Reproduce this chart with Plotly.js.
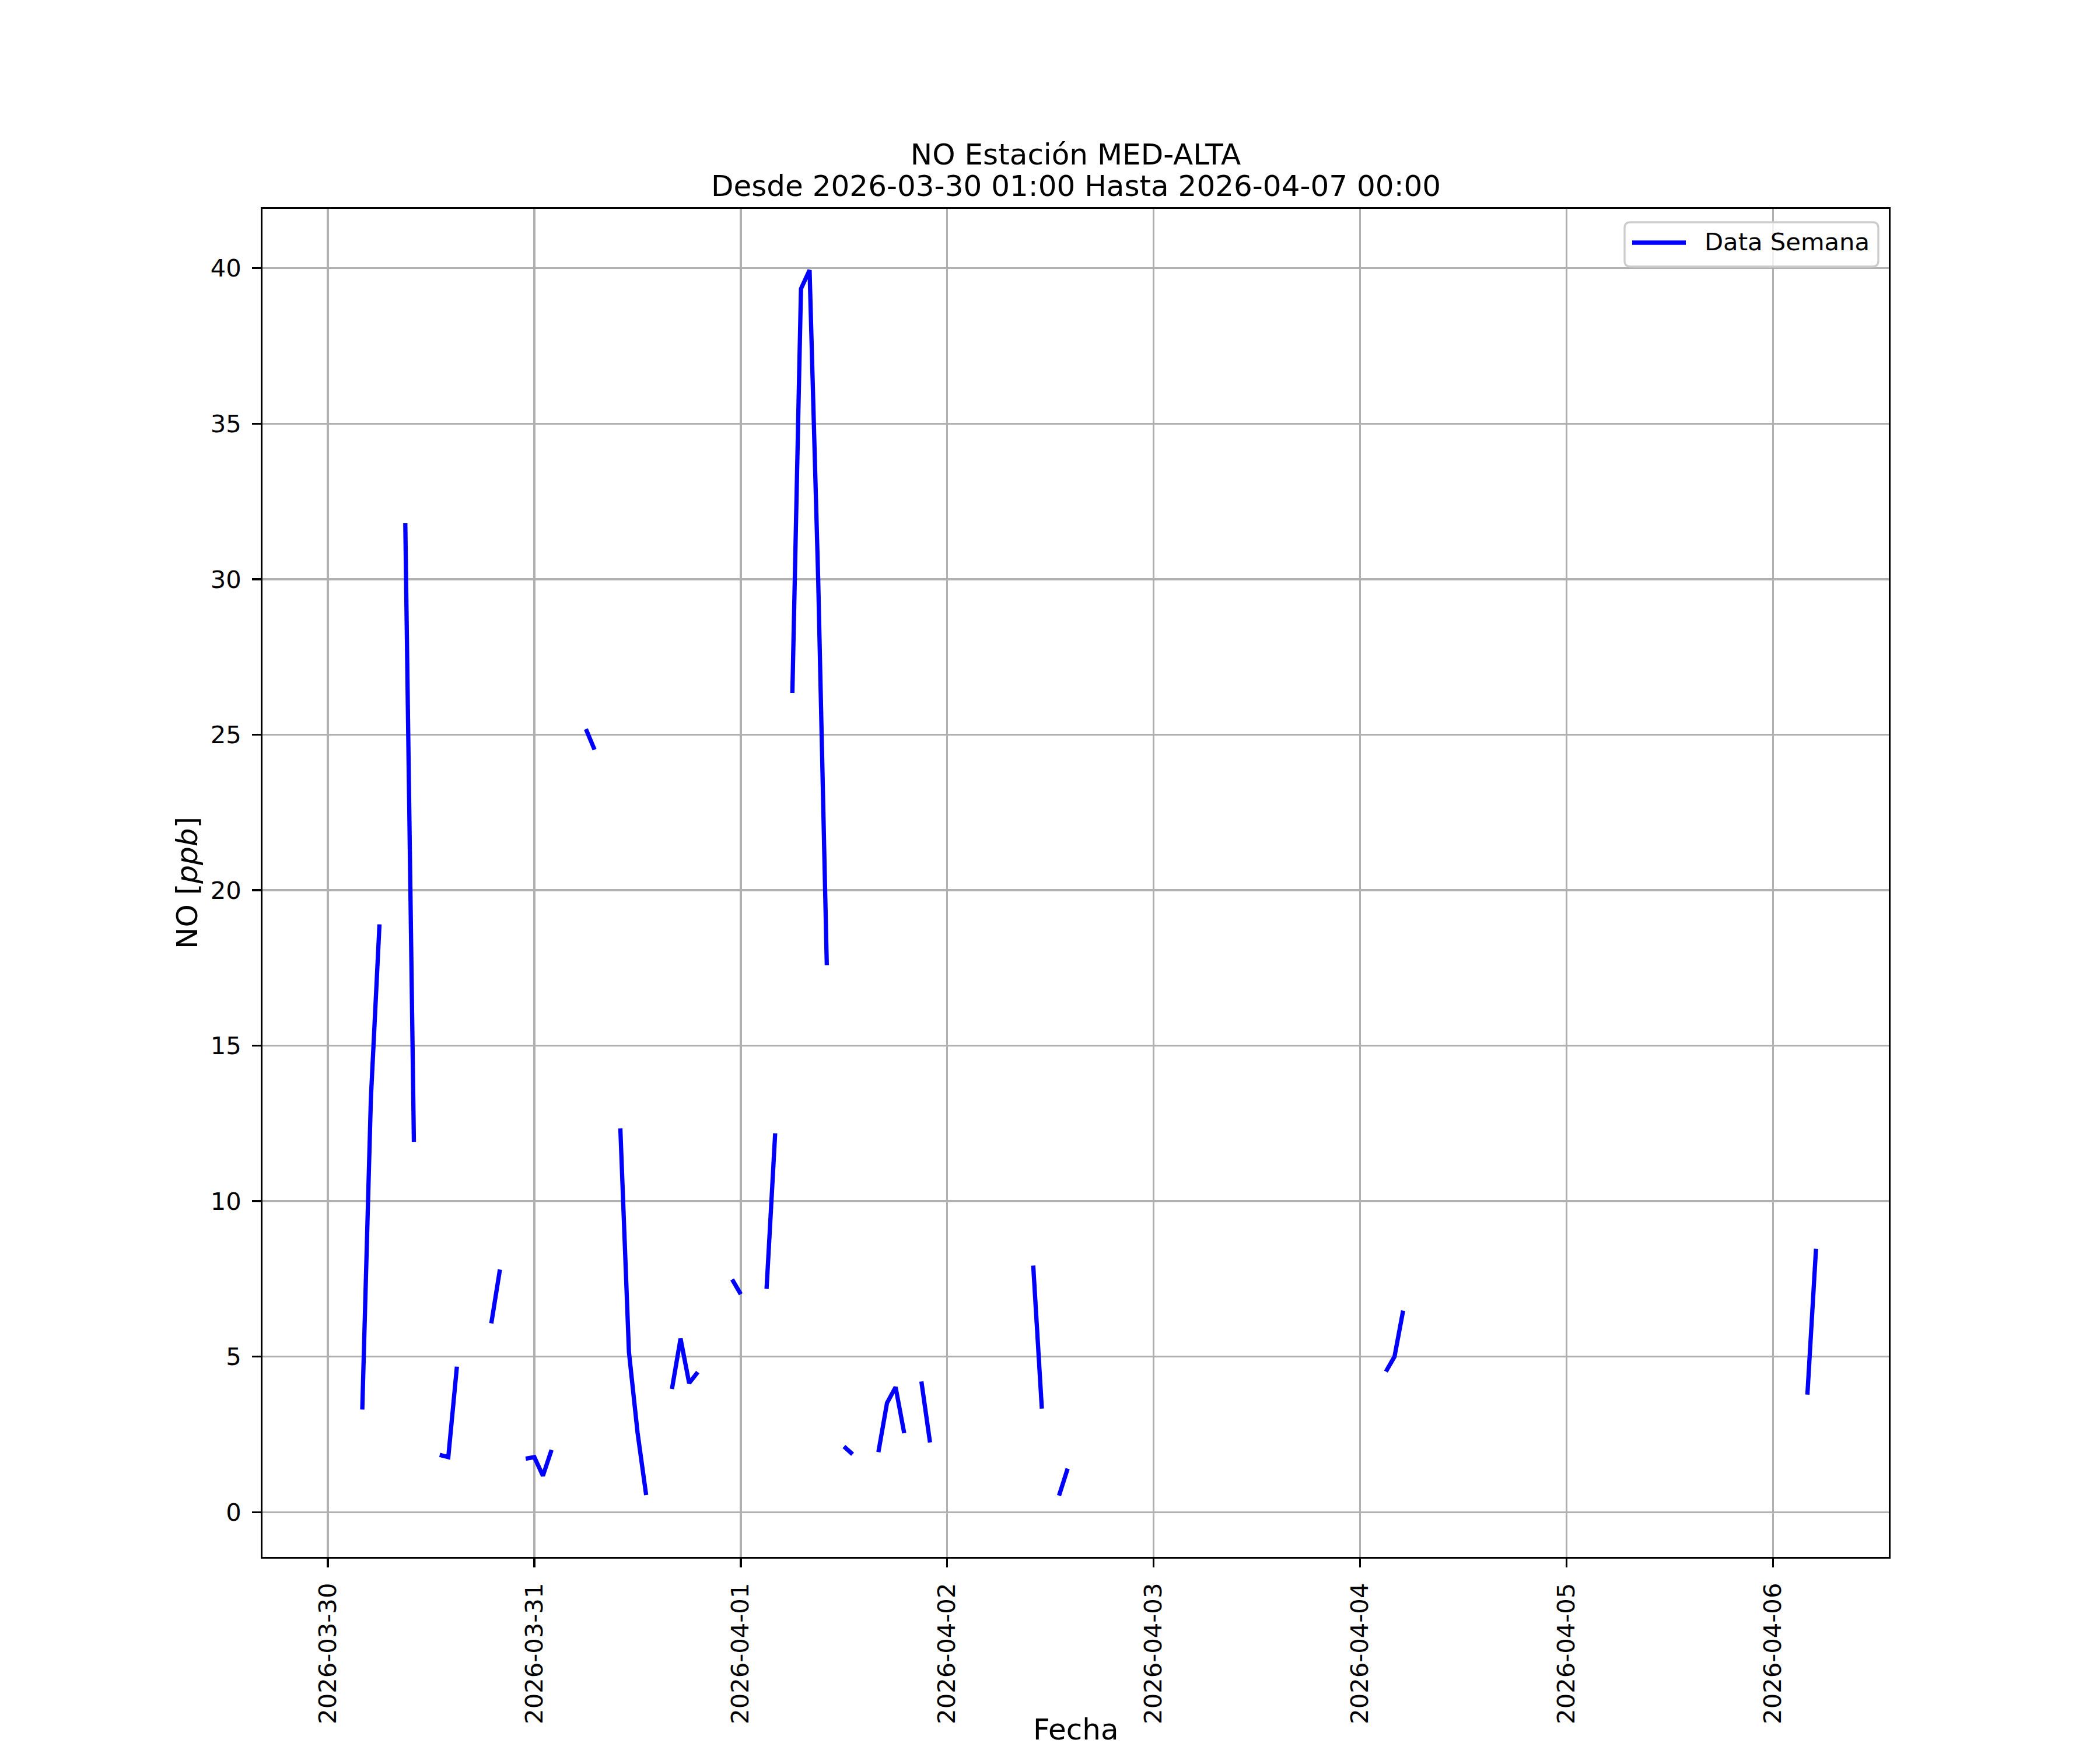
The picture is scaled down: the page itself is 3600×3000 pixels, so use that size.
<!DOCTYPE html>
<html>
<head>
<meta charset="utf-8">
<script src="https://cdn.plot.ly/plotly-3.0.1.min.js"></script>
<style>
  html, body { margin: 0; padding: 0; background: #ffffff; }
  #chart { width: 3600px; height: 3000px; }
</style>
</head>
<body>
<div id="chart"></div>
<script>
// ---- Data (hourly NO readings; null = missing hour, breaks the line) ----
const times = [
  '2026-03-30 04:00', '2026-03-30 05:00', '2026-03-30 06:00', '2026-03-30 07:00',
  '2026-03-30 09:00', '2026-03-30 10:00', '2026-03-30 11:00',
  '2026-03-30 13:00', '2026-03-30 14:00', '2026-03-30 15:00', '2026-03-30 16:00',
  '2026-03-30 19:00', '2026-03-30 20:00', '2026-03-30 21:00',
  '2026-03-30 23:00', '2026-03-31 00:00', '2026-03-31 01:00', '2026-03-31 02:00', '2026-03-31 03:00',
  '2026-03-31 06:00', '2026-03-31 07:00', '2026-03-31 08:00',
  '2026-03-31 10:00', '2026-03-31 11:00', '2026-03-31 12:00', '2026-03-31 13:00', '2026-03-31 14:00',
  '2026-03-31 16:00', '2026-03-31 17:00', '2026-03-31 18:00', '2026-03-31 19:00', '2026-03-31 20:00',
  '2026-03-31 23:00', '2026-04-01 00:00', '2026-04-01 01:00',
  '2026-04-01 03:00', '2026-04-01 04:00', '2026-04-01 05:00',
  '2026-04-01 06:00', '2026-04-01 07:00', '2026-04-01 08:00', '2026-04-01 09:00', '2026-04-01 10:00', '2026-04-01 11:00',
  '2026-04-01 12:00', '2026-04-01 13:00', '2026-04-01 14:00',
  '2026-04-01 16:00', '2026-04-01 17:00', '2026-04-01 18:00', '2026-04-01 19:00', '2026-04-01 20:00',
  '2026-04-01 21:00', '2026-04-01 22:00', '2026-04-01 23:00',
  '2026-04-02 10:00', '2026-04-02 11:00', '2026-04-02 12:00',
  '2026-04-02 13:00', '2026-04-02 14:00', '2026-04-02 15:00',
  '2026-04-04 03:00', '2026-04-04 04:00', '2026-04-04 05:00', '2026-04-04 06:00',
  '2026-04-06 04:00', '2026-04-06 05:00'
];
const noValues = [
  3.3, 13.3, 18.9, null,
  31.8, 11.9, null,
  1.84, 1.77, 4.68, null,
  6.07, 7.8, null,
  1.72, 1.77, 1.17, 2.0, null,
  25.18, 24.52, null,
  12.34, 5.15, 2.56, 0.55, null,
  3.96, 5.58, 4.15, 4.5, null,
  7.48, 7.01, null,
  7.18, 12.18, null,
  26.34, 39.34, 39.94, 30.0, 17.59, null,
  2.11, 1.86, null,
  1.93, 3.51, 4.02, 2.54, null,
  4.2, 2.24, null,
  7.93, 3.33, null,
  0.53, 1.4, null,
  4.52, 5.0, 6.48, null,
  3.78, 8.47
];
const tickDates = ['2026-03-30', '2026-03-31', '2026-04-01', '2026-04-02',
                   '2026-04-03', '2026-04-04', '2026-04-05', '2026-04-06'];
const tickLabels = ['2026-03-30', '2026-03-31', '2026-04-01', '2026-04-02',
                    '2026-04-03', '2026-04-04', '2026-04-05', '2026-04-06'];
const yTicks = [0, 5, 10, 15, 20, 25, 30, 35, 40];
const seriesName = 'Data Semana';
const titleLine1 = 'NO Estación MED-ALTA';
const titleLine2 = 'Desde 2026-03-30 01:00 Hasta 2026-04-07 00:00';
const xLabel = 'Fecha';
const yLabel = 'NO [<i>ppb</i>]';

// ---- Styling / geometry ----
const FONT = 'DejaVu Sans, Liberation Sans, sans-serif';
const tickFont = { family: FONT, size: 41.7, color: '#000000' };
const labelFont = { family: FONT, size: 50, color: '#000000' };
const W = 3600, H = 3000;
const M = { l: 450, r: 362, t: 358, b: 331 };
const PW = W - M.l - M.r, PH = H - M.t - M.b;
const px2x = (px) => (px - M.l) / PW;          // pixel -> paper x
const py2y = (py) => (H - M.b - py) / PH;      // pixel -> paper y

// Legend frame (rounded rectangle, matplotlib style) in paper coords
function roundedRect(x0, y0, x1, y1, r) {
  const X0 = px2x(x0), X1 = px2x(x1), Y0 = py2y(y0), Y1 = py2y(y1);
  const rx = r / PW, ry = r / PH;
  return 'M' + (X0 + rx) + ',' + Y0 +
    ' L' + (X1 - rx) + ',' + Y0 + ' Q' + X1 + ',' + Y0 + ' ' + X1 + ',' + (Y0 - ry) +
    ' L' + X1 + ',' + (Y1 + ry) + ' Q' + X1 + ',' + Y1 + ' ' + (X1 - rx) + ',' + Y1 +
    ' L' + (X0 + rx) + ',' + Y1 + ' Q' + X0 + ',' + Y1 + ' ' + X0 + ',' + (Y1 + ry) +
    ' L' + X0 + ',' + (Y0 - ry) + ' Q' + X0 + ',' + Y0 + ' ' + (X0 + rx) + ',' + Y0 + ' Z';
}

const trace = {
  x: times,
  y: noValues,
  type: 'scatter',
  mode: 'lines',
  name: seriesName,
  connectgaps: false,
  line: { color: '#0000ff', width: 7.3 },
  hoverinfo: 'skip'
};

const layout = {
  width: W,
  height: H,
  paper_bgcolor: '#ffffff',
  plot_bgcolor: '#ffffff',
  margin: { l: M.l, r: M.r, t: M.t, b: M.b, pad: 0 },
  title: {
    text: titleLine1,
    font: labelFont,
    x: 0.5, xref: 'paper', xanchor: 'center',
    y: 1 - 264 / H, yref: 'container', yanchor: 'middle'
  },
  showlegend: false,
  annotations: [
    {
      text: titleLine2, font: labelFont, showarrow: false,
      xref: 'paper', x: 0.5, xanchor: 'center',
      yref: 'paper', y: 1, yanchor: 'middle', yshift: 358 - 319
    },
    {
      text: xLabel, font: labelFont, showarrow: false,
      xref: 'paper', x: 0.5, xanchor: 'center',
      yref: 'paper', y: 0, yanchor: 'middle', yshift: -(2965 - 2669)
    },
    {
      text: seriesName, font: tickFont, showarrow: false,
      xref: 'paper', x: px2x(2920), xanchor: 'left',
      yref: 'paper', y: py2y(415), yanchor: 'middle'
    }
  ],
  shapes: [
    {
      type: 'path', xref: 'paper', yref: 'paper', layer: 'above',
      path: roundedRect(2785, 381, 3220, 457, 10),
      fillcolor: 'rgba(255,255,255,0.8)',
      line: { color: '#cccccc', width: 3.3 }
    },
    {
      type: 'line', xref: 'paper', yref: 'paper', layer: 'above',
      x0: px2x(2798), x1: px2x(2890), y0: py2y(416), y1: py2y(416),
      line: { color: '#0000ff', width: 7.3 }
    }
  ],
  xaxis: {
    type: 'date',
    range: ['2026-03-29 16:24', '2026-04-06 13:28'],
    tickmode: 'array',
    tickvals: tickDates,
    ticktext: tickLabels,
    tickangle: -90,
    tickfont: tickFont,
    ticks: 'outside',
    ticklen: 14.6,
    tickwidth: 3.3,
    tickcolor: '#000000',
    ticklabelstandoff: 10,
    showgrid: true,
    gridcolor: '#b0b0b0',
    gridwidth: 3.3,
    zeroline: false,
    showline: true,
    linecolor: '#000000',
    linewidth: 3.3,
    mirror: true,
    automargin: false
  },
  yaxis: {
    range: [-1.44, 41.91],
    tickmode: 'array',
    tickvals: yTicks,
    ticktext: yTicks.map(String),
    tickfont: tickFont,
    ticks: 'outside',
    ticklen: 14.6,
    tickwidth: 3.3,
    tickcolor: '#000000',
    ticklabelstandoff: 10,
    showgrid: true,
    gridcolor: '#b0b0b0',
    gridwidth: 3.3,
    zeroline: false,
    showline: true,
    linecolor: '#000000',
    linewidth: 3.3,
    mirror: true,
    title: { text: yLabel, font: labelFont, standoff: 7 },
    automargin: false
  }
};

Plotly.newPlot('chart', [trace], layout, { displayModeBar: false, staticPlot: true });
</script>
</body>
</html>
